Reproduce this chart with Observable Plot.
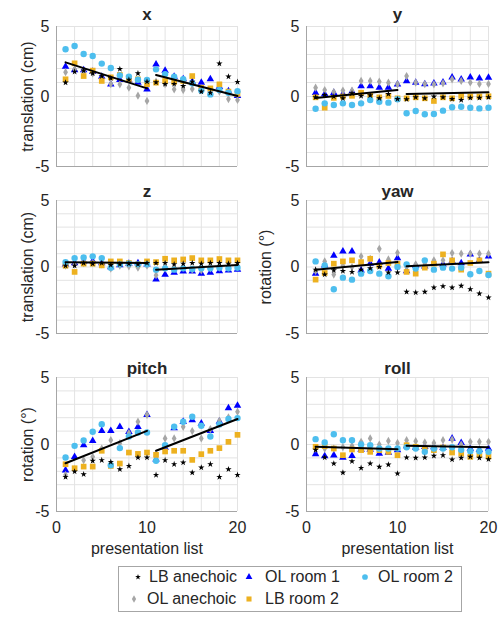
<!DOCTYPE html>
<html><head><meta charset="utf-8">
<script src="https://cdn.jsdelivr.net/npm/d3@7"></script>
<script src="https://cdn.jsdelivr.net/npm/@observablehq/plot@0.6"></script>
<style>
html,body{margin:0;padding:0;background:#fff;}
#chart{position:relative;width:498px;height:618px;overflow:hidden;font-family:"Liberation Sans",Arial,Helvetica,sans-serif;color:#262626;}
#legend{position:absolute;border:1px solid #a6a6a6;background:#fff;box-sizing:border-box;}
.li{position:absolute;font-size:16px;line-height:16px;white-space:nowrap;color:#262626;}
.lm{position:absolute;overflow:visible;}
</style></head><body><div id="chart"></div><script>
// ---------------- data ----------------
const lists = d3.range(1, 21);
const seriesNames = ["LB anechoic", "OL anechoic", "OL room 1", "LB room 2", "OL room 2"];
const fitListsA = [1, 10];
const fitListsB = [11, 20];

// x (translation, cm)
const x_LB_anechoic = [0.99,1.77,1.85,1.65,1.45,1.3,1.96,1.2,1.65,1.06, 1.01,0.89,0.89,0.75,1.06,0.35,0.27,2.35,1.42,1.04];
const x_OL_anechoic = [1.74,1.94,1.82,1.65,1.3,0.89,0.87,0.63,0.06,-0.32, 1.06,0.89,0.51,0.46,0.54,0.58,0.46,0.35,-0.18,-0.25];
const x_OL_room1    = [2.13,1.89,1.89,1.77,1.42,0.87,1.2,1.18,0.99,0.51, 2.3,1.85,1.42,1.25,1.06,0.99,1.25,0.7,0.39,0.04];
const x_LB_room2    = [1.23,2.37,1.46,1.85,1.11,1.37,1.54,1.2,1.23,0.87, 0.99,1.11,1.04,1.11,1.46,0.63,0.58,0.87,0.35,0.18];
const x_OL_room2    = [3.37,3.61,3.04,2.89,2.35,2.04,1.51,1.42,1.2,1.18, 1.94,1.6,1.42,1.23,0.94,0.42,0.15,0.46,0.27,0.37];
const x_fitA = [2.44, 0.58];
const x_fitB = [1.54, 0.04];

// y (translation, cm)
const y_LB_anechoic = [-0.06,0.1,0,-0.13,0.23,0.04,0.08,-0.13,0.18,-0.18, -0.2,-0.06,-0.13,0,-0.06,-0.18,-0.25,-0.1,-0.1,-0.05];
const y_OL_anechoic = [0.63,0.46,0.32,0.42,0.42,1.11,1.11,1.06,0.99,0.87, 1.46,0.99,0.89,0.87,0.94,1.23,1.11,1.0,0.9,0.9];
const y_OL_room1    = [0.27,0.18,0.27,0.18,0.35,0.75,0.75,0.63,0.63,0.87, 1.1,0.99,0.89,0.94,1.01,1.37,1.23,1.37,1.3,1.35];
const y_LB_room2    = [-0.06,-0.8,-0.1,0.0,0.05,0.27,0.08,-0.06,0.04,-0.13, -0.13,-0.06,-0.13,-0.32,-0.06,-0.13,0.04,0.0,0.0,0.02];
const y_OL_room2    = [-0.87,-0.49,-0.61,-0.49,-0.61,-0.49,-0.25,-0.37,-0.44,-0.2, -1.2,-1.04,-1.27,-1.25,-1.01,-0.77,-0.73,-0.8,-0.85,-0.8];
const y_fitA = [-0.1, 0.46];
const y_fitB = [0.18, 0.3];

// z (translation, cm)
const z_LB_anechoic = [0.1,0.1,0.3,0.25,0.3,0.15,0.2,0.25,0.2,0.3, 0.3,0.3,0.2,0.25,0.3,0.25,0.3,0.3,0.25,0.3];
const z_OL_anechoic = [0.1,0.2,0.3,0.3,0.2,-0.12,0.1,0.05,-0.05,0.1, -0.62,-0.1,-0.1,-0.05,-0.2,-0.25,-0.1,-0.05,-0.05,0.0];
const z_OL_room1    = [0.2,0.3,0.4,0.45,0.3,0.0,0.15,0.25,0.3,0.2, -0.92,-0.57,-0.42,-0.32,-0.32,-0.5,-0.42,-0.3,-0.25,-0.2];
const z_LB_room2    = [0.1,-0.37,0.25,0.25,0.12,0.42,0.42,0.3,0.2,0.42, 0.37,0.62,0.5,0.57,0.67,0.5,0.5,0.6,0.5,0.5];
const z_OL_room2    = [0.37,0.67,0.72,0.8,0.67,-0.05,0.2,0.25,0.2,0.2, -0.2,-0.1,-0.2,-0.1,-0.15,-0.1,-0.1,-0.05,-0.1,-0.05];
const z_fitA = [0.35, 0.3];
const z_fitB = [-0.2, 0.15];

// yaw (rotation, deg)
const yaw_LB_anechoic = [-0.2,-0.57,-0.25,-0.3,-0.37,-0.2,-0.1,0.0,-0.42,-0.42, -1.87,-1.92,-1.87,-1.55,-1.45,-1.55,-1.42,-1.67,-2.0,-2.3];
const yaw_OL_anechoic = [-0.3,0.42,-0.57,0.1,0.0,0.8,0.62,1.37,0.57,1.07, 0.0,0.2,0.3,0.5,0.5,1.05,1.0,1.0,1.0,1.0];
const yaw_OL_room1    = [-0.5,0.12,0.85,1.17,1.17,-0.25,0.25,0.35,-0.12,0.67, -0.3,0.1,0.05,0.3,0.2,0.45,0.3,0.95,0.5,0.8];
const yaw_LB_room2    = [-0.95,-0.45,0.25,0.42,0.5,0.37,0.62,0.1,0.3,0.25, -0.37,-0.5,-0.05,0.25,0.95,0.5,-0.2,0.3,0.5,-0.5];
const yaw_OL_room2    = [0.42,0.12,-1.67,-0.8,-0.95,-0.5,-0.3,-0.5,-0.7,0.0, 0.2,-0.12,0.5,-0.2,-0.05,-0.12,-0.05,-0.55,-0.3,-0.6];
const yaw_fitA = [-0.2, 0.37];
const yaw_fitB = [0.05, 0.35];

// pitch (rotation, deg)
const pitch_LB_anechoic = [-2.42,-2.02,-2.22,-1.22,-1.17,-1.3,-1.85,-1.6,-0.97,-0.97, -2.27,-1.17,-1.47,-1.35,-2.1,-1.72,-1.47,-2.42,-1.85,-2.27];
const pitch_OL_anechoic = [-2.27,-1.85,-1.17,-0.92,-0.3,0.32,0.1,0.85,1.7,2.22, -0.92,0.45,0.45,1.32,1.0,0.45,1.15,1.77,2.02,2.45];
const pitch_OL_room1    = [-1.92,-0.92,-0.05,0.27,1.02,1.02,1.32,0.95,1.32,2.22, -1.1,-0.22,1.22,1.7,1.82,1.57,1.02,1.72,2.72,2.9];
const pitch_LB_room2    = [-1.47,-1.77,-1.65,-1.65,-0.47,-1.6,-1.42,-0.6,-0.7,-0.6, -0.77,-0.52,-0.47,-0.47,-1.15,-0.72,-0.47,-0.27,0.2,0.72];
const pitch_OL_room2    = [-0.97,-0.1,0.3,0.95,1.52,-1.55,-0.27,0.6,0.9,0.9, -1.22,-0.05,1.32,1.7,2.07,1.4,0.6,1.5,1.9,1.97];
const pitch_fitA = [-1.4, 1.02];
const pitch_fitB = [-0.47, 1.9];

// roll (rotation, deg)
const roll_LB_anechoic = [-0.4,-0.97,-1.42,-2.1,-1.25,-1.75,-1.42,-1.67,-1.5,-2.17, -0.97,-1.0,-0.97,-0.85,-0.8,-1.12,-1.0,-0.92,-1.0,-1.1];
const roll_OL_anechoic = [-0.3,-0.3,-0.3,-0.2,-0.1,0.2,0.45,0.0,0.27,0.12, 0.32,0.25,0.15,0.12,0.32,0.37,0.0,0.2,0.2,0.2];
const roll_OL_room1    = [-0.72,-0.87,-0.8,-0.97,-0.85,-0.37,-0.37,-0.67,-0.6,-0.42, -0.12,-0.22,-0.17,-0.2,-0.25,0.45,0.12,-0.3,-0.4,-0.3];
const roll_LB_room2    = [-0.17,-0.12,-0.3,-0.8,-0.37,-0.42,-0.55,-0.42,-0.55,-0.8, -0.05,-0.17,-0.3,-0.42,-0.22,-0.6,-0.67,-0.92,-0.8,-0.9];
const roll_OL_room2    = [0.4,0.15,0.77,0.32,0.32,0.0,-0.05,-0.3,-0.3,-0.3, -0.2,-0.3,-0.55,-0.3,-0.3,-0.2,-0.4,-0.5,-0.5,-0.55];
const roll_fitA = [-0.17, -0.35];
const roll_fitB = [-0.1, -0.2];

const xTicks = [0, 10, 20];
const yTicks = [-5, 0, 5];

// ---------------- layout & style ----------------
const FONT = '"Liberation Sans", Arial, Helvetica, sans-serif';
const TEXT = "#262626";
const cols = [
  {left: 0,   width: 249, frameLeft: 56,  frameRight: 237, ylabelDx: -29},
  {left: 249, width: 249, frameLeft: 306, frameRight: 488, ylabelDx: -41}
];
const rows = [
  {frameTop: 26,  frameBottom: 166},
  {frameTop: 200, frameBottom: 333},
  {frameTop: 377, frameBottom: 511}
];
const seriesStyle = [
  {symbol: "star",     fill: "#000000", r: 2.0},
  {symbol: "diamond",  fill: "#a6a6a6", r: 2.5},
  {symbol: "triangle", fill: "#0000ff", r: 2.8},
  {symbol: "square",   fill: "#edb120", r: 3.2},
  {symbol: "circle",   fill: "#4dbeee", r: 3.2}
];
const drawOrder = [2, 1, 3, 4, 0];

const panels = [
  {title: "x", ylabel: "translation (cm)", row: 0, col: 0,
   values: [x_LB_anechoic, x_OL_anechoic, x_OL_room1, x_LB_room2, x_OL_room2], fit: [x_fitA, x_fitB]},
  {title: "y", ylabel: null, row: 0, col: 1,
   values: [y_LB_anechoic, y_OL_anechoic, y_OL_room1, y_LB_room2, y_OL_room2], fit: [y_fitA, y_fitB]},
  {title: "z", ylabel: "translation (cm)", row: 1, col: 0,
   values: [z_LB_anechoic, z_OL_anechoic, z_OL_room1, z_LB_room2, z_OL_room2], fit: [z_fitA, z_fitB]},
  {title: "yaw", ylabel: "rotation (°)", row: 1, col: 1,
   values: [yaw_LB_anechoic, yaw_OL_anechoic, yaw_OL_room1, yaw_LB_room2, yaw_OL_room2], fit: [yaw_fitA, yaw_fitB]},
  {title: "pitch", ylabel: "rotation (°)", row: 2, col: 0,
   values: [pitch_LB_anechoic, pitch_OL_anechoic, pitch_OL_room1, pitch_LB_room2, pitch_OL_room2], fit: [pitch_fitA, pitch_fitB]},
  {title: "roll", ylabel: null, row: 2, col: 1,
   values: [roll_LB_anechoic, roll_OL_anechoic, roll_OL_room1, roll_LB_room2, roll_OL_room2], fit: [roll_fitA, roll_fitB]}
];

const chart = document.getElementById("chart");
const MT = 26;
const fmt = d => String(d);

for (const p of panels) {
  const c = cols[p.col], rw = rows[p.row];
  const bottomRow = p.row === 2;
  const mb = bottomRow ? 50 : 6;
  const frameH = rw.frameBottom - rw.frameTop;
  const marks = [
    Plot.gridX(d3.range(0, 21, 2), {stroke: "#e3e3e3", strokeOpacity: 1}),
    Plot.gridY(d3.range(-5, 6, 1), {stroke: "#e3e3e3", strokeOpacity: 1}),
    Plot.ruleX([0], {stroke: "#a6a6a6"}),
    Plot.ruleY([-5], {stroke: "#a6a6a6"})
  ];
  for (const k of drawOrder) {
    const s = seriesStyle[k];
    marks.push(Plot.dot(p.values[k], {x: lists, y: p.values[k], symbol: () => s.symbol, fill: s.fill, stroke: "none", r: s.r}));
  }
  marks.push(Plot.line(p.fit[0], {x: fitListsA, y: p.fit[0], stroke: "#000", strokeWidth: 2}));
  marks.push(Plot.line(p.fit[1], {x: fitListsB, y: p.fit[1], stroke: "#000", strokeWidth: 2}));
  marks.push(Plot.text([p.title], {frameAnchor: "top", dy: p.row === 0 ? -12 : -9, lineAnchor: "middle",
    fontWeight: "bold", fontSize: 17, fill: TEXT}));
  if (p.ylabel) {
    marks.push(Plot.text([p.ylabel], {frameAnchor: "left", dx: c.ylabelDx, rotate: -90, lineAnchor: "middle",
      textAnchor: "middle", fontSize: 16, fill: TEXT}));
  }
  if (bottomRow) {
    marks.push(Plot.text(["presentation list"], {frameAnchor: "bottom", dy: 37, lineAnchor: "middle",
      fontSize: 16, fill: TEXT}));
  }
  const svg = Plot.plot({
    width: c.width,
    height: MT + frameH + mb,
    marginTop: MT, marginBottom: mb,
    marginLeft: c.frameLeft - c.left,
    marginRight: c.left + c.width - c.frameRight,
    style: {fontSize: "16px", fontFamily: FONT, color: TEXT, background: "transparent", overflow: "visible"},
    x: {domain: [0, 20], ticks: xTicks, tickSize: 0, tickPadding: 10, tickFormat: fmt, label: null, axis: bottomRow ? "bottom" : null},
    y: {domain: [-5, 5], ticks: yTicks, tickSize: 0, tickPadding: 7, tickFormat: fmt, label: null},
    symbol: {type: "identity"},
    marks
  });
  svg.style.position = "absolute";
  svg.style.left = c.left + "px";
  svg.style.top = (rw.frameTop - MT) + "px";
  svg.style.maxWidth = "none";
  chart.appendChild(svg);
}

// ---------------- legend ----------------
const legendBox = {left: 118, top: 566, width: 344, height: 46};
const legendSlots = [
  {series: 0, mx: 138, tx: 149, y: 577},
  {series: 1, mx: 134, tx: 147, y: 599},
  {series: 2, mx: 249, tx: 265, y: 577},
  {series: 3, mx: 249, tx: 265, y: 599},
  {series: 4, mx: 365, tx: 378, y: 577}
];
const symbolMap = {star: d3.symbolStar, diamond: d3.symbolDiamond, triangle: d3.symbolTriangle, square: d3.symbolSquare, circle: d3.symbolCircle};
const legend = document.createElement("div");
legend.id = "legend";
Object.assign(legend.style, {left: legendBox.left + "px", top: legendBox.top + "px", width: legendBox.width + "px", height: legendBox.height + "px"});
chart.appendChild(legend);
for (const slot of legendSlots) {
  const s = seriesStyle[slot.series];
  const ns = "http://www.w3.org/2000/svg";
  const m = document.createElementNS(ns, "svg");
  m.setAttribute("class", "lm");
  m.setAttribute("width", 12); m.setAttribute("height", 12);
  m.style.left = (slot.mx - 6) + "px"; m.style.top = (slot.y - 6) + "px";
  const path = document.createElementNS(ns, "path");
  path.setAttribute("transform", "translate(6,6)");
  path.setAttribute("d", d3.symbol(symbolMap[s.symbol], Math.PI * s.r * s.r * 0.8)());
  path.setAttribute("fill", s.fill);
  m.appendChild(path);
  chart.appendChild(m);
  const t = document.createElement("div");
  t.className = "li";
  t.textContent = seriesNames[slot.series];
  t.style.left = slot.tx + "px";
  t.style.top = (slot.y - 8) + "px";
  chart.appendChild(t);
}
</script></body></html>
